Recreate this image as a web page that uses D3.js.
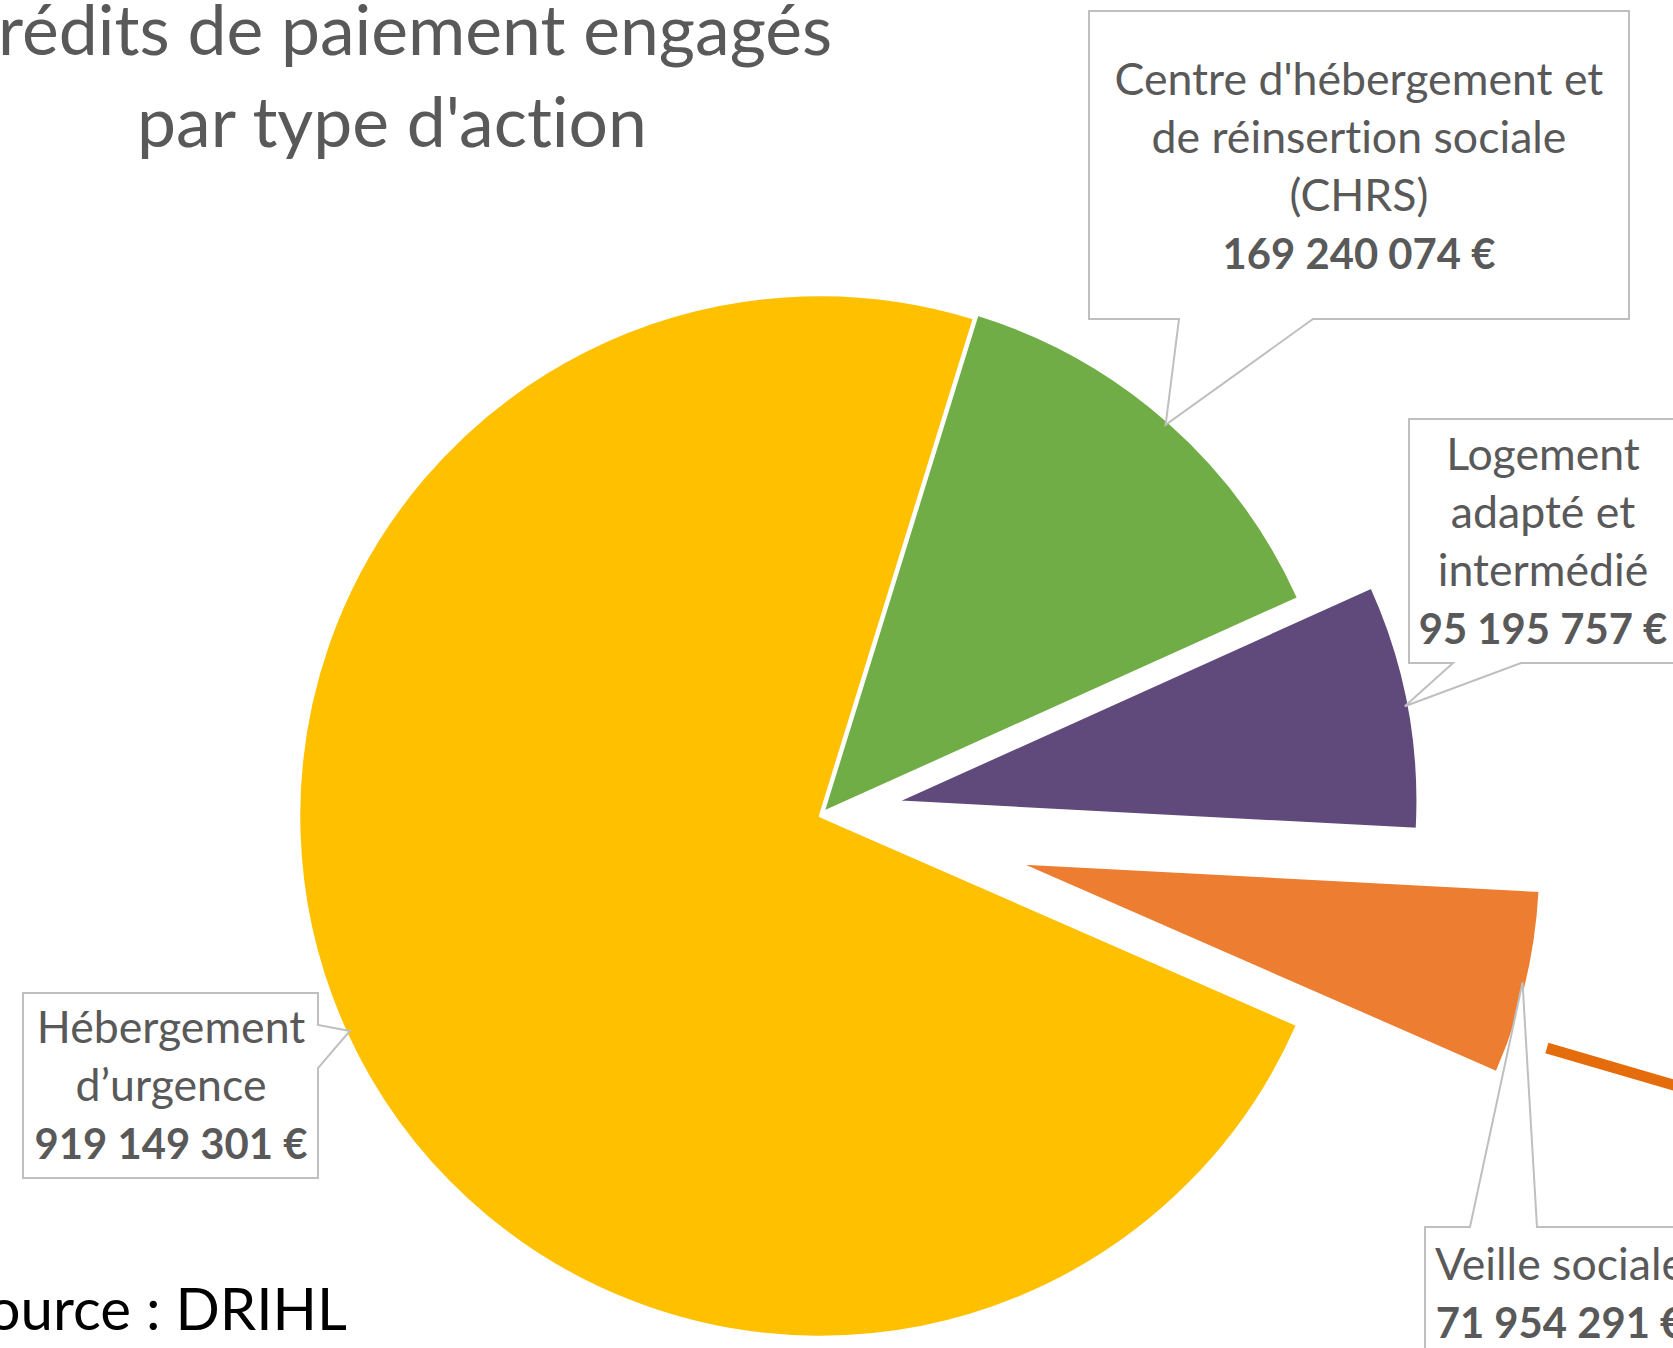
<!DOCTYPE html>
<html lang="fr">
<head>
<meta charset="UTF-8">
<title>Crédits de paiement engagés par type d'action</title>
<style>
  body { margin: 0; background: #fff; }
  svg { display: block; }
  text { font-variant-ligatures: none; font-feature-settings: "liga" 0, "clig" 0; }
</style>
</head>
<body>
<div id="chart"></div>
<script src="https://cdn.jsdelivr.net/npm/d3@7"></script>
<script>
// data
const categories = ["CHRS", "Logement adapté et intermédié", "Veille sociale", "Hébergement d’urgence"];
const values = [169240074, 95195757, 71954291, 919149301];
const labelLines = [
    ["Centre d'hébergement et", "de réinsertion sociale", "(CHRS)"],
    ["Logement", "adapté et", "intermédié"],
    ["Veille sociale"],
    ["Hébergement", "d’urgence"]
];
const colors = ["#70AD47", "#604A7B", "#ED7D31", "#FFC000"];
const titleLines = ["Crédits de paiement engagés", "par type d'action"];
const sourceText = "Source : DRIHL";

const W = 1673, H = 1348;
const cx = 820, cy = 816, R = 521;
const startAngle = 17.2 * Math.PI / 180;
const font = "Lato, 'Open Sans', sans-serif";
const grey = "#595959";
const lineStep = 58;

// explosion + callout boxes, one per slice
const layout = [
    { explode: 5,   box: [1089, 11, 1629, 319],    side: "bottom", base: [1179, 1313], tx: 1359, ty: 95 },
    { explode: 78,  box: [1409, 419, 1690, 663],   side: "bottom", base: [1453, 1521], tx: 1543, ty: 470 },
    { explode: 205, box: [1425, 1227, 1710, 1400], side: "top",    base: [1470, 1537], tx: 1560, ty: 1280 },
    { explode: 0,   box: [23, 993, 318, 1178],     side: "right",  base: [1025, 1068], tx: 171,  ty: 1043 }
];

const fr = d3.formatLocale({ decimal: ",", thousands: " ", grouping: [3], currency: ["", " €"] });
const fmt = v => fr.format(",.0f")(v) + " €";

const svg = d3.select("#chart").append("svg")
    .attr("width", W)
    .attr("height", H);

svg.append("rect").attr("width", W).attr("height", H).attr("fill", "#fff");

// scale font sizes so the substitute font has Calibri-like widths
function measure(txt, size, weight) {
    const t = svg.append("text")
        .attr("font-family", font)
        .attr("font-size", size)
        .attr("font-weight", weight)
        .text(txt);
    const w = t.node().getComputedTextLength();
    t.remove();
    return w;
}
const kReg = 489 / measure("Centre d'hébergement et", 47.5, "normal");
const kBold = 273 / measure("169 240 074 €", 47.5, "bold");
const kTitle = 510 / measure("par type d'action", 74, "normal");
const labelSize = 47.5 * kReg, valueSize = 47.5 * kBold, titleSize = 74 * kTitle;

const polar = (a, r) => [Math.sin(a) * r, -Math.cos(a) * r];

const pie = d3.pie().sort(null).startAngle(startAngle).endAngle(startAngle + 2 * Math.PI);
const arcs = pie(values);
const arc = d3.arc().innerRadius(0).outerRadius(R);

const slices = svg.append("g").attr("transform", `translate(${cx},${cy})`);

slices.selectAll("path")
    .data(arcs)
    .enter()
    .append("path")
    .attr("transform", (d, i) => {
        const mid = (d.startAngle + d.endAngle) / 2;
        const o = polar(mid, layout[i].explode);
        return `translate(${o[0]},${o[1]})`;
    })
    .attr("d", arc)
    .attr("fill", (d, i) => colors[i])
    .attr("stroke", "#fff")
    .attr("stroke-width", 2.5)
    .attr("stroke-linejoin", "round");

// orange accent line to the right of "Veille sociale"
const accent = { angle: 107.7, r: 763, dir: 106.3, len: 240 };
const a0 = polar(accent.angle * Math.PI / 180, accent.r);
const dv = polar(accent.dir * Math.PI / 180, accent.len);
svg.append("line")
    .attr("x1", cx + a0[0]).attr("y1", cy + a0[1])
    .attr("x2", cx + a0[0] + dv[0]).attr("y2", cy + a0[1] + dv[1])
    .attr("stroke", "#E46C0A")
    .attr("stroke-width", 11);

// callouts
function callout(L, tip) {
    const [x0, y0, x1, y1] = L.box, [b0, b1] = L.base, p = d3.path();
    if (L.side === "bottom") {
        p.moveTo(x0, y0); p.lineTo(x1, y0); p.lineTo(x1, y1);
        p.lineTo(b1, y1); p.lineTo(tip[0], tip[1]); p.lineTo(b0, y1);
        p.lineTo(x0, y1);
    } else if (L.side === "top") {
        p.moveTo(x0, y0); p.lineTo(b0, y0); p.lineTo(tip[0], tip[1]);
        p.lineTo(b1, y0); p.lineTo(x1, y0); p.lineTo(x1, y1); p.lineTo(x0, y1);
    } else {
        p.moveTo(x0, y0); p.lineTo(x1, y0); p.lineTo(x1, b0);
        p.lineTo(tip[0], tip[1]); p.lineTo(x1, b1); p.lineTo(x1, y1); p.lineTo(x0, y1);
    }
    p.closePath();
    return p.toString();
}

const labels = svg.append("g");
arcs.forEach((d, i) => {
    const L = layout[i];
    const mid = (d.startAngle + d.endAngle) / 2;
    const o = polar(mid, L.explode), e = polar(mid, R - 4);
    const tip = [cx + o[0] + e[0], cy + o[1] + e[1]];

    labels.append("path")
        .attr("d", callout(L, tip))
        .attr("fill", "#fff")
        .attr("stroke", "#BFBFBF")
        .attr("stroke-width", 2);

    const t = labels.append("text")
        .attr("x", L.tx)
        .attr("y", L.ty)
        .attr("text-anchor", "middle")
        .attr("font-family", font)
        .attr("fill", grey);
    labelLines[i].forEach((line, j) => {
        t.append("tspan").attr("x", L.tx).attr("y", L.ty + j * lineStep)
            .attr("font-size", labelSize)
            .text(line);
    });
    t.append("tspan").attr("x", L.tx).attr("y", L.ty + labelLines[i].length * lineStep)
        .attr("font-size", valueSize)
        .attr("font-weight", "bold")
        .text(fmt(values[i]));
});

// title
svg.append("text")
    .attr("x", 392)
    .attr("y", 55)
    .attr("text-anchor", "middle")
    .attr("font-family", font)
    .attr("font-size", titleSize)
    .attr("fill", grey)
    .selectAll("tspan")
    .data(titleLines)
    .enter()
    .append("tspan")
    .attr("x", 392)
    .attr("y", (d, i) => 55 + i * 92)
    .text(d => d);

// source
svg.append("text")
    .attr("x", 347)
    .attr("y", 1330)
    .attr("text-anchor", "end")
    .attr("font-family", font)
    .attr("font-size", 62 * kReg)
    .attr("fill", "#000")
    .text(sourceText);
</script>
</body>
</html>
